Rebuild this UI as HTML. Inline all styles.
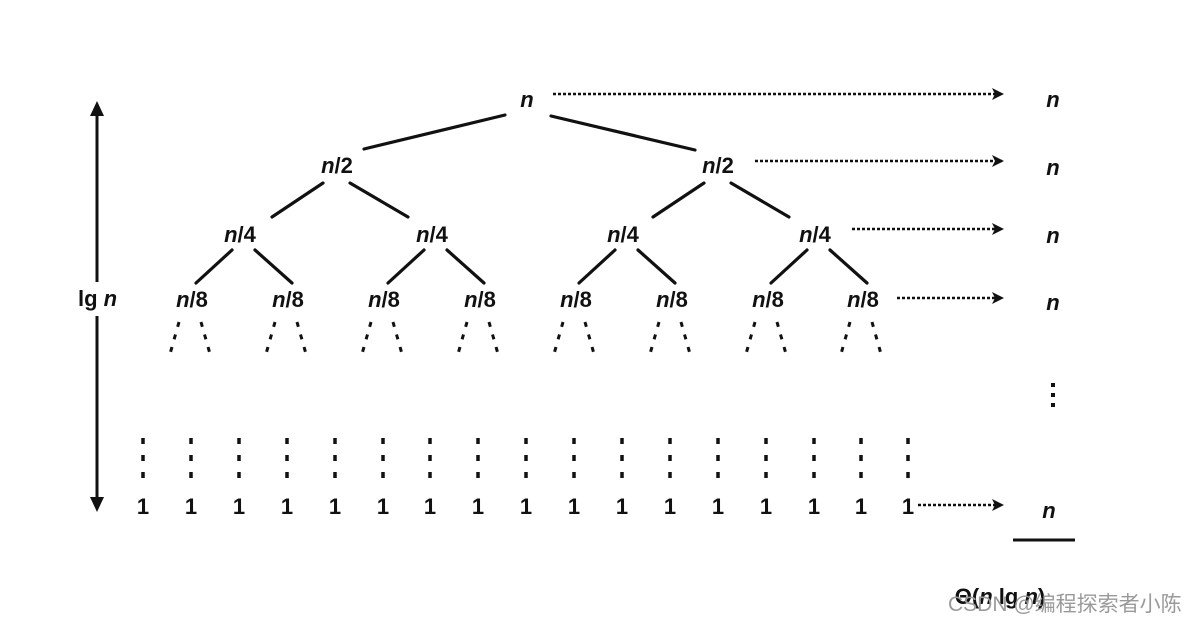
<!DOCTYPE html>
<html><head><meta charset="utf-8"><style>
html,body{margin:0;padding:0;background:#fff;}
svg{display:block}
text{font-family:"Liberation Sans",sans-serif;font-weight:bold;fill:#111}
.i{font-style:italic}
</style></head><body>
<svg width="1196" height="623" viewBox="0 0 1196 623" xmlns="http://www.w3.org/2000/svg">
<defs>
<marker id="ah" markerWidth="12" markerHeight="12" refX="10" refY="6" orient="auto" markerUnits="userSpaceOnUse">
<path d="M0,0 L12,6 L0,12 L3,6 Z" fill="#111"/>
</marker>
</defs>
<g stroke="#111" stroke-width="3.2" stroke-linecap="round">
<line x1="505" y1="115" x2="364" y2="149"/>
<line x1="551" y1="116" x2="695" y2="150"/>
<line x1="323" y1="183" x2="272" y2="217"/><line x1="350" y1="183" x2="408" y2="217"/>
<line x1="704" y1="183" x2="653" y2="217"/><line x1="731" y1="183" x2="789" y2="217"/>
<line x1="232" y1="250" x2="196" y2="283"/><line x1="255" y1="250" x2="292" y2="283"/>
<line x1="424" y1="250" x2="388" y2="283"/><line x1="447" y1="250" x2="484" y2="283"/>
<line x1="615" y1="250" x2="579" y2="283"/><line x1="638" y1="250" x2="675" y2="283"/>
<line x1="807" y1="250" x2="771" y2="283"/><line x1="830" y1="250" x2="867" y2="283"/>
</g>
<g stroke="#111" stroke-width="3" stroke-dasharray="5,8">
<line x1="179" y1="322" x2="170" y2="354"/><line x1="201" y1="322" x2="210" y2="354"/>
<line x1="275" y1="322" x2="266" y2="354"/><line x1="297" y1="322" x2="306" y2="354"/>
<line x1="371" y1="322" x2="362" y2="354"/><line x1="393" y1="322" x2="402" y2="354"/>
<line x1="467" y1="322" x2="458" y2="354"/><line x1="489" y1="322" x2="498" y2="354"/>
<line x1="563" y1="322" x2="554" y2="354"/><line x1="585" y1="322" x2="594" y2="354"/>
<line x1="659" y1="322" x2="650" y2="354"/><line x1="681" y1="322" x2="690" y2="354"/>
<line x1="755" y1="322" x2="746" y2="354"/><line x1="777" y1="322" x2="786" y2="354"/>
<line x1="850" y1="322" x2="841" y2="354"/><line x1="872" y1="322" x2="881" y2="354"/>
</g>
<g stroke="#111" stroke-width="3.5" stroke-dasharray="6,11">
<line x1="143" y1="438" x2="143" y2="480"/><line x1="191" y1="438" x2="191" y2="480"/>
<line x1="239" y1="438" x2="239" y2="480"/><line x1="287" y1="438" x2="287" y2="480"/>
<line x1="335" y1="438" x2="335" y2="480"/><line x1="383" y1="438" x2="383" y2="480"/>
<line x1="430" y1="438" x2="430" y2="480"/><line x1="478" y1="438" x2="478" y2="480"/>
<line x1="526" y1="438" x2="526" y2="480"/><line x1="574" y1="438" x2="574" y2="480"/>
<line x1="622" y1="438" x2="622" y2="480"/><line x1="670" y1="438" x2="670" y2="480"/>
<line x1="718" y1="438" x2="718" y2="480"/><line x1="766" y1="438" x2="766" y2="480"/>
<line x1="814" y1="438" x2="814" y2="480"/><line x1="861" y1="438" x2="861" y2="480"/>
<line x1="908" y1="438" x2="908" y2="480"/>
</g>
<g stroke="#111" stroke-width="2.5" stroke-dasharray="3,2" marker-end="url(#ah)">
<line x1="553" y1="94" x2="1002" y2="94"/>
<line x1="755" y1="161" x2="1002" y2="161"/>
<line x1="852" y1="229" x2="1002" y2="229"/>
<line x1="897" y1="298" x2="1002" y2="298"/>
<line x1="918" y1="505" x2="1002" y2="505"/>
</g>
<line x1="97" y1="110" x2="97" y2="282" stroke="#111" stroke-width="3"/>
<line x1="97" y1="316" x2="97" y2="500" stroke="#111" stroke-width="3"/>
<path d="M97,101 L104,116 L90,116 Z" fill="#111"/>
<path d="M97,512 L104,497 L90,497 Z" fill="#111"/>
<text x="78" y="306" font-size="22">lg <tspan class="i">n</tspan></text>
<g font-size="22" text-anchor="middle">
<text class="i" x="527" y="107">n</text>
<text x="337" y="173"><tspan class="i">n</tspan>/2</text>
<text x="718" y="173"><tspan class="i">n</tspan>/2</text>
<text x="240" y="242"><tspan class="i">n</tspan>/4</text>
<text x="432" y="242"><tspan class="i">n</tspan>/4</text>
<text x="623" y="242"><tspan class="i">n</tspan>/4</text>
<text x="815" y="242"><tspan class="i">n</tspan>/4</text>
<text x="192" y="307"><tspan class="i">n</tspan>/8</text>
<text x="288" y="307"><tspan class="i">n</tspan>/8</text>
<text x="384" y="307"><tspan class="i">n</tspan>/8</text>
<text x="480" y="307"><tspan class="i">n</tspan>/8</text>
<text x="576" y="307"><tspan class="i">n</tspan>/8</text>
<text x="672" y="307"><tspan class="i">n</tspan>/8</text>
<text x="768" y="307"><tspan class="i">n</tspan>/8</text>
<text x="863" y="307"><tspan class="i">n</tspan>/8</text>
<text x="143" y="514">1</text><text x="191" y="514">1</text><text x="239" y="514">1</text><text x="287" y="514">1</text>
<text x="335" y="514">1</text><text x="383" y="514">1</text><text x="430" y="514">1</text><text x="478" y="514">1</text>
<text x="526" y="514">1</text><text x="574" y="514">1</text><text x="622" y="514">1</text><text x="670" y="514">1</text>
<text x="718" y="514">1</text><text x="766" y="514">1</text><text x="814" y="514">1</text><text x="861" y="514">1</text>
<text x="908" y="514">1</text>
<text class="i" x="1053" y="107">n</text>
<text class="i" x="1053" y="175">n</text>
<text class="i" x="1053" y="243">n</text>
<text class="i" x="1053" y="310">n</text>
<text class="i" x="1049" y="518">n</text>
<text x="1000" y="604" fill="#222">Θ(<tspan class="i">n</tspan> lg <tspan class="i">n</tspan>)</text>
</g>
<g fill="#111"><rect x="1051" y="383" width="4" height="4"/><rect x="1051" y="393" width="4" height="4"/><rect x="1051" y="403" width="4" height="4"/></g>
<line x1="1013" y1="540" x2="1075" y2="540" stroke="#111" stroke-width="3"/>
<text x="948" y="611" font-size="21" style="font-weight:normal;fill:#9a9a9a;font-family:'Liberation Sans','Noto Sans CJK SC',sans-serif">CSDN @编程探索者小陈</text>
</svg>
</body></html>
